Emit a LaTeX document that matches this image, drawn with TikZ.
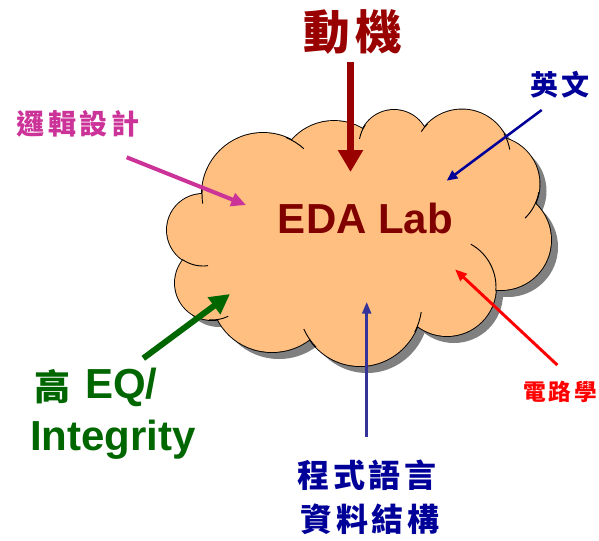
\documentclass[tikz,border=0pt]{standalone}
\usepackage{fontspec}
\setmainfont{Liberation Sans}
\newfontfamily\cjk{Noto Sans CJK TC}[LetterSpace=12]
\usetikzlibrary{arrows.meta}
\definecolor{cloudfill}{HTML}{FFBF80}
\definecolor{shadowgray}{HTML}{808080}
\definecolor{motred}{HTML}{990000}
\definecolor{edared}{HTML}{800000}
\definecolor{navy}{HTML}{000099}
\definecolor{indigo}{HTML}{333399}
\definecolor{magent}{HTML}{CC3399}
\definecolor{eqgreen}{HTML}{006600}
\definecolor{circred}{HTML}{FF0000}
\tikzset{
  cloudline/.style={line width=0.7pt, black},
  cjklabel/.style={inner sep=0pt, font=\cjk\bfseries\fontsize{#1}{#1}\selectfont},
  latlabel/.style={inner sep=0pt, font=\bfseries\fontsize{31.5pt}{36pt}\selectfont},
}
\begin{document}
\begin{tikzpicture}[x=0.75pt,y=0.75pt]
\useasboundingbox (0,0) rectangle (599,-540);
\def\bumplist{263/194/61/61, 334/177/56/56, 394/145/35/35, 462/158/48.5/48.5, 492/184/47.5/47.5, 501/240/50/50, 447/287/49/49, 360/302/62/64, 272/295/60/57, 212/283/37/37, 203/230/36/36}
% shadow
\foreach \cx/\cy/\rx/\ry in \bumplist {
  \fill[shadowgray] (\cx+7,-\cy-7) ellipse[x radius=\rx, y radius=\ry];
}
% outline
\foreach \cx/\cy/\rx/\ry in \bumplist {
  \draw[black, line width=1.4pt] (\cx,-\cy) ellipse[x radius=\rx, y radius=\ry];
}
% fill
\foreach \cx/\cy/\rx/\ry in \bumplist {
  \fill[cloudfill] (\cx,-\cy) ellipse[x radius=\rx, y radius=\ry];
}
\fill[cloudfill] (263,-194)--(334,-177)--(394,-145)--(462,-158)--(492,-184)--(501,-240)--(447,-287)--(360,-302)--(272,-295)--(212,-283)--(203,-230)--cycle;
% inner arcs
\draw[cloudline] (263,-194) ++(175:61) arc[start angle=175,end angle=189,radius=61];
\draw[cloudline] (263,-194) ++(48:61) arc[start angle=48,end angle=68,radius=61];
\draw[cloudline] (203,-230) ++(235:36) arc[start angle=235,end angle=278,radius=36];
\draw[cloudline] (212,-283) ++(265:37) arc[start angle=265,end angle=296,radius=37];
\draw[cloudline] (360,-302) ++(205:62 and 64) arc[start angle=205,end angle=225,x radius=62,y radius=64];
\draw[cloudline] (360,-302) ++(-28:62 and 64) arc[start angle=-28,end angle=-9,x radius=62,y radius=64];
\draw[cloudline] (447,-287) ++(-5:49) arc[start angle=-5,end angle=61,radius=49];
\draw[cloudline] (492,-184) ++(-46:47.5) arc[start angle=-46,end angle=-10,radius=47.5];
\draw[cloudline] (462,-158) ++(10:48.5) arc[start angle=10,end angle=30,radius=48.5];
\draw[cloudline] (462,-158) ++(135:48.5) arc[start angle=135,end angle=147,radius=48.5];
\draw[cloudline] (394,-145) ++(145:35) arc[start angle=145,end angle=170,radius=35];

% labels
\node[cjklabel=35pt, text=motred] (motive) at (353,-31.5) {動機};
\node[latlabel, text=edared, anchor=base] (eda) at (365.5,-233) {EDA Lab};
\node[cjklabel=21pt, text=navy] (eng) at (560,-85) {英文};
\node[cjklabel=21pt, text=magent] (logic) at (78,-123.5) {邏輯設計};
\node[cjklabel=17pt, text=circred] (circ) at (560,-392) {電路學};
\node[cjklabel=24pt, text=navy] (prog) at (367,-475) {程式語言};
\node[cjklabel=24pt, text=navy] (ds) at (370,-519) {資料結構};
\node[cjklabel=27pt, text=eqgreen, anchor=base west] (gao) at (34,-400) {高};
\node[latlabel, text=eqgreen, anchor=base west] (eq) at (85,-398) {EQ/};
\node[latlabel, text=eqgreen, anchor=base west] (integ) at (30,-450) {Integrity};

% arrow endpoints
\coordinate (motT) at (350.5,-62);
\coordinate (motH) at (350.5,-172);
\coordinate (engT) at (541.7,-110);
\coordinate (engH) at (446.7,-180.7);
\coordinate (logT) at (126.7,-157.3);
\coordinate (logH) at (246,-205);
\coordinate (eqT) at (143.3,-358.3);
\coordinate (eqH) at (230,-294);
\coordinate (cirT) at (557.3,-365);
\coordinate (cirH) at (455,-269.3);
\coordinate (prgT) at (366.7,-436.7);
\coordinate (prgH) at (366.7,-301.7);

\draw[motred, line width=5.8pt, -{Triangle[length=16.5pt,width=18pt]}] (motT) -- (motH);
\draw[navy, line width=1.9pt, -{Triangle[length=8pt,width=7pt]}] (engT) -- (engH);
\draw[magent, line width=3pt, -{Triangle[length=11pt,width=10pt]}] (logT) -- (logH);
\draw[eqgreen, line width=4.5pt, -{Triangle[length=15pt,width=15pt]}] (eqT) -- (eqH);
\draw[circred, line width=2.2pt, -{Triangle[length=9pt,width=7pt]}] (cirT) -- (cirH);
\draw[indigo, line width=2.2pt, -{Triangle[length=9pt,width=6.5pt]}] (prgT) -- (prgH);
\end{tikzpicture}
\end{document}
